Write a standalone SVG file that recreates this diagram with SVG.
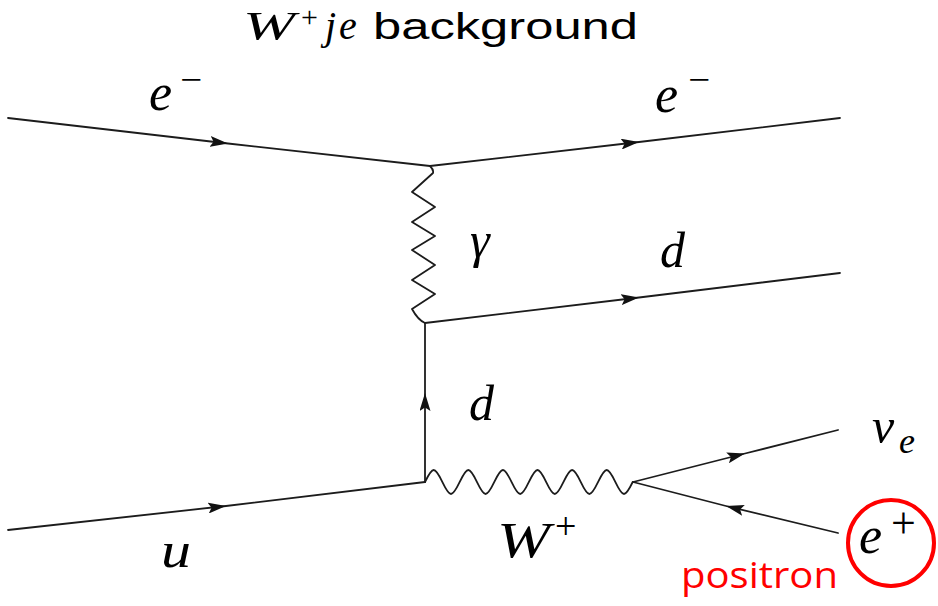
<svg xmlns="http://www.w3.org/2000/svg" width="938" height="606" viewBox="0 0 938 606">
<style>
.ln{fill:none;stroke:#1c1c1c;stroke-width:1.8;stroke-linecap:round;stroke-linejoin:round}
.m{font-family:"Liberation Serif","DejaVu Serif",serif;font-style:italic;fill:#000}
.r{font-family:"Liberation Serif","DejaVu Serif",serif;fill:#000}
.s{font-family:"Liberation Sans","Open Sans",sans-serif;fill:#000}
</style>
<defs>
<marker id="arr" viewBox="0 0 18 11" refX="18" refY="5.5" markerWidth="18" markerHeight="11" markerUnits="userSpaceOnUse" orient="auto">
<path d="M0,0 L18,5.5 L0,11 L3.5,5.5 z" fill="#111"/>
</marker>
</defs>
<rect width="938" height="606" fill="#fff"/>
<g id="title">
<text class="m" x="243" y="39" font-size="40" textLength="52" lengthAdjust="spacingAndGlyphs">W</text>
<text class="r" x="301" y="27" font-size="30">+</text>
<text class="m" x="325" y="39" font-size="40">j</text>
<text class="m" x="339" y="39" font-size="40">e</text>
<text class="s" x="373" y="39" font-size="37" textLength="265" lengthAdjust="spacingAndGlyphs">background</text>
</g>
<g id="connectors">
<path id="e-in" class="ln" marker-mid="url(#arr)" d="M8,118 L228,143.5 L430,166"/>
<path id="e-out" class="ln" marker-mid="url(#arr)" d="M430,166 L639,142 L840,118"/>
<path id="gamma" class="ln" d="M430,166 Q434,170 433,173 L412,192 L435,207 L412,222 L435,236 L412,250 L435,265 L412,280 L435,294 L412,309 Q418,320 425,323"/>
<path id="d-out" class="ln" marker-mid="url(#arr)" d="M425,323 L639,297.5 L840,273"/>
<path id="d-prop" class="ln" marker-mid="url(#arr)" d="M425,482 L425,393 L425,323"/>
<path id="u-in" class="ln" marker-mid="url(#arr)" d="M8,530 L226,506 L425,482"/>
<path id="w-prop" class="ln" d="M425,482 c2.9,-6 5.8,-12 8.7,-12 c5.8,0 11.6,24 17.3,24 c5.8,0 11.6,-24 17.3,-24 c5.8,0 11.6,24 17.3,24 c5.8,0 11.6,-24 17.3,-24 c5.8,0 11.6,24 17.3,24 c5.8,0 11.6,-24 17.3,-24 c5.8,0 11.6,24 17.3,24 c5.8,0 11.6,-24 17.3,-24 c5.8,0 11.6,24 17.3,24 c5.8,0 11.6,-24 17.3,-24 c5.8,0 11.6,24 17.3,24 c2.9,0 5.8,-6 8.7,-12"/>
<path id="nu-out" class="ln" marker-mid="url(#arr)" d="M633,482 L745,453.5 L838,430"/>
<path id="ep-line" class="ln" marker-mid="url(#arr)" d="M838,533 L726,506 L633,482"/>
</g>
<g id="label-e-in">
<text class="m" x="149" y="110" font-size="52">e</text>
<text class="r" x="180" y="91" font-size="34" textLength="22" lengthAdjust="spacingAndGlyphs">−</text>
</g>
<g id="label-e-out">
<text class="m" x="655" y="112" font-size="52">e</text>
<text class="r" x="688" y="91" font-size="34" textLength="22" lengthAdjust="spacingAndGlyphs">−</text>
</g>
<g id="label-gamma">
<text class="m" x="470" y="257" font-size="50">γ</text>
</g>
<g id="label-d-out">
<text class="m" x="660" y="267" font-size="50">d</text>
</g>
<g id="label-d-prop">
<text class="m" x="469" y="420" font-size="50">d</text>
</g>
<g id="label-u">
<text class="m" x="161" y="567" font-size="50" textLength="30" lengthAdjust="spacingAndGlyphs">u</text>
</g>
<g id="label-w">
<text class="m" x="497" y="557" font-size="50" textLength="53" lengthAdjust="spacingAndGlyphs">W</text>
<text class="r" x="555" y="539" font-size="38">+</text>
</g>
<g id="label-nu">
<text class="m" x="872" y="443" font-size="50">ν</text>
<text class="m" x="899" y="453" font-size="36">e</text>
</g>
<g id="positron">
<circle cx="891" cy="543" r="43" fill="none" stroke="#ff0000" stroke-width="4"/>
<text class="m" x="859" y="553" font-size="52">e</text>
<text class="r" x="891" y="538" font-size="44">+</text>
<text x="681" y="588" font-size="36" textLength="157" lengthAdjust="spacingAndGlyphs" style="font-family:'Open Sans','Liberation Sans',sans-serif;fill:#ff0000">positron</text>
</g>
</svg>
